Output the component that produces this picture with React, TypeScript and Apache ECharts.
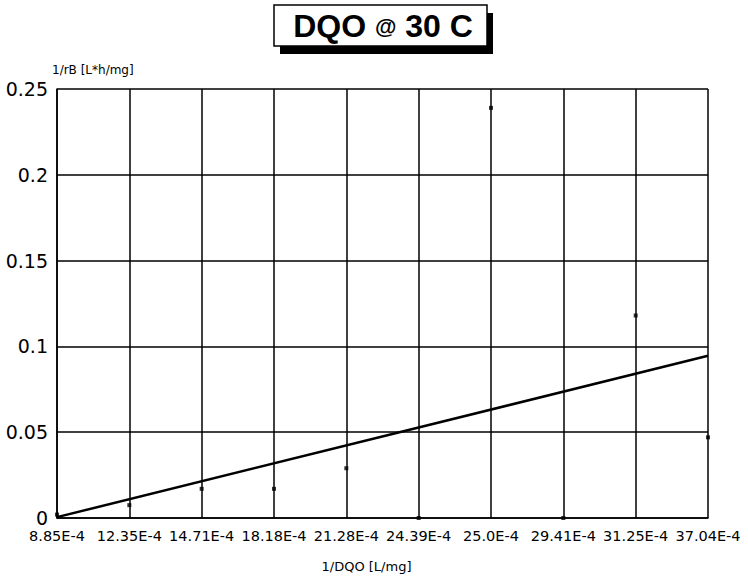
import React, { useEffect, useRef } from "react";
import * as echarts from "echarts";

const categories = [
  "8.85E-4", "12.35E-4", "14.71E-4", "18.18E-4", "21.28E-4",
  "24.39E-4", "25.0E-4", "29.41E-4", "31.25E-4", "37.04E-4",
];
const measured = [0.002, 0.0075, 0.017, 0.017, 0.029, 0, 0.239, 0, 0.118, 0.047];
const trendline = [0.0005, null, null, null, null, null, null, null, null, 0.0945];

export default function App() {
  const ref = useRef<HTMLDivElement>(null);
  useEffect(() => {
    if (!ref.current) return;
    const chart = echarts.init(ref.current, null, { renderer: "svg" });
    chart.setOption({
      animation: false,
      backgroundColor: "#ffffff",
      grid: { left: 57, right: 40, top: 89, bottom: 55, containLabel: false },
      graphic: [
        { type: "rect", shape: { x: 280, y: 13, width: 213, height: 41 }, style: { fill: "#000" }, z: 10 },
        { type: "rect", shape: { x: 274, y: 5, width: 213, height: 41 }, style: { fill: "#fff", stroke: "#000", lineWidth: 1.5 }, z: 11 },
        {
          type: "text", x: 383, y: 26, z: 12,
          style: {
            text: "{a|DQO }{b|@}{a| 30 C}",
            align: "center", verticalAlign: "middle",
            rich: {
              a: { fontFamily: "Liberation Sans", fontWeight: "bold", fontSize: 32, fill: "#000" },
              b: { fontFamily: "Liberation Sans", fontWeight: "bold", fontSize: 22, fill: "#000" },
            },
          },
        },
      ],
      xAxis: {
        type: "category",
        data: categories,
        boundaryGap: false,
        name: "1/DQO [L/mg]",
        nameLocation: "middle",
        nameGap: 42,
        nameTextStyle: { fontFamily: "DejaVu Sans", fontSize: 13, color: "#000", padding: [0, 32, 0, 0] },
        axisLine: { lineStyle: { color: "#000", width: 1.5 } },
        axisTick: { show: false },
        axisLabel: { interval: 0, margin: 10, fontFamily: "DejaVu Sans", fontSize: 14.5, color: "#000" },
        splitLine: { show: true, lineStyle: { color: "#000", width: 1.5 } },
      },
      yAxis: {
        type: "value",
        min: 0,
        max: 0.25,
        interval: 0.05,
        name: "1/rB [L*h/mg]",
        nameLocation: "end",
        nameGap: 13,
        nameTextStyle: { fontFamily: "DejaVu Sans", fontSize: 12, color: "#000", align: "left", padding: [0, 0, 0, -5] },
        axisLine: { show: true, lineStyle: { color: "#000", width: 1.5 } },
        axisTick: { show: false },
        axisLabel: { margin: 9, fontFamily: "DejaVu Sans", fontSize: 19, color: "#000" },
        splitLine: { show: true, lineStyle: { color: "#000", width: 1.5 } },
      },
      series: [
        {
          type: "line",
          data: trendline,
          connectNulls: true,
          showSymbol: false,
          symbol: "none",
          lineStyle: { color: "#000", width: 2.5 },
          z: 3,
        },
        {
          type: "scatter",
          data: measured,
          symbol: "rect",
          symbolSize: 4,
          itemStyle: { color: "#000" },
          z: 4,
        },
      ],
    });
    return () => chart.dispose();
  }, []);
  return (
    <div
      ref={ref}
      style={{ position: "absolute", left: 0, top: 0, width: 748, height: 578 }}
    />
  );
}
